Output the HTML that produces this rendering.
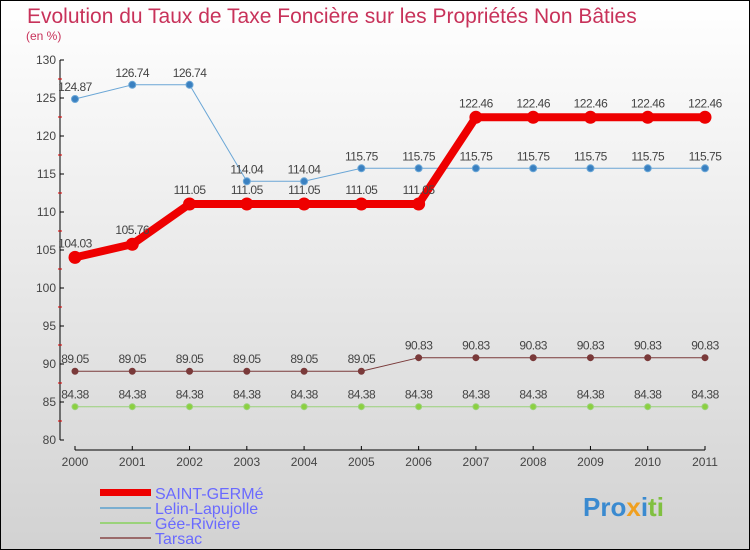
<!DOCTYPE html>
<html><head><meta charset="utf-8"><style>
body{margin:0}
svg{display:block;font-family:"Liberation Sans",sans-serif}
</style></head><body>
<svg id="chart" width="750" height="550">
<defs><linearGradient id="bg" x1="0" y1="0" x2="0" y2="1"><stop offset="0" stop-color="#ffffff"/><stop offset="1" stop-color="#d2d2d2"/></linearGradient></defs>
<rect x="0.5" y="0.5" width="749" height="549" fill="url(#bg)" stroke="#000"/>
<text x="27" y="23" font-size="21" fill="#c8325a">Evolution du Taux de Taxe Foncière sur les Propriétés Non Bâties</text>
<text x="26" y="40" font-size="12" fill="#c8325a">(en %)</text>
<g id="axes"></g><g id="series"></g>
<g>
<rect x="100" y="489" width="51" height="7" fill="#e00"/>
<text x="155" y="499" font-size="16" fill="#6a6aff">SAINT-GERMé</text>
<line x1="100" y1="508" x2="151" y2="508" stroke="#7aaed0" stroke-width="2"/>
<text x="155" y="514" font-size="16" fill="#6a6aff">Lelin-Lapujolle</text>
<line x1="100" y1="523" x2="151" y2="523" stroke="#9ad27a" stroke-width="2"/>
<text x="155" y="529" font-size="16" fill="#6a6aff">Gée-Rivière</text>
<line x1="100" y1="538" x2="151" y2="538" stroke="#9a6a6a" stroke-width="2"/>
<text x="155" y="544" font-size="16" fill="#6a6aff">Tarsac</text>
</g>
<g>
<text x="583" y="516" font-size="26" font-weight="bold" fill="#3a8ad0">Pro<tspan fill="#f0a020">x</tspan><tspan fill="#3a8ad0">i</tspan><tspan fill="#80c040">ti</tspan></text>
</g>
</svg>
<script>
const years=[2000,2001,2002,2003,2004,2005,2006,2007,2008,2009,2010,2011];
const saintGerme=[104.03,105.76,111.05,111.05,111.05,111.05,111.05,122.46,122.46,122.46,122.46,122.46];
const lelin=[124.87,126.74,126.74,114.04,114.04,115.75,115.75,115.75,115.75,115.75,115.75,115.75];
const gee=[84.38,84.38,84.38,84.38,84.38,84.38,84.38,84.38,84.38,84.38,84.38,84.38];
const tarsac=[89.05,89.05,89.05,89.05,89.05,89.05,90.83,90.83,90.83,90.83,90.83,90.83];
const yTicks=[80,85,90,95,100,105,110,115,120,125,130];
const NS="http://www.w3.org/2000/svg";
const xS=i=>75+i*(705-75)/(years.length-1);
const yS=v=>440-(v-80)*(380/50);
function mk(tag,attrs,parent,txt){const e=document.createElementNS(NS,tag);for(const k in attrs)e.setAttribute(k,attrs[k]);if(txt!==undefined)e.textContent=txt;parent.appendChild(e);return e;}
const ax=document.getElementById('axes');
let e=mk('line',{x1:60,y1:yS(130),x2:60,y2:yS(80),stroke:'#000'},ax);

e=mk('line',{x1:75,y1:450,x2:705,y2:450,stroke:'#000'},ax);

yTicks.forEach(t=>{
 mk('line',{x1:60,y1:yS(t),x2:64,y2:yS(t),stroke:'#000'},ax);
 if(t<130){mk('line',{x1:58,y1:yS(t+2.5),x2:62,y2:yS(t+2.5),stroke:'#d00'},ax);}
 const l=mk('text',{x:56,y:yS(t)+4,'font-size':12,'text-anchor':'end',fill:'#444'},ax,t);
 
});
years.forEach((y,i)=>{
 mk('line',{x1:xS(i),y1:446,x2:xS(i),y2:450,stroke:'#000'},ax);
 const l=mk('text',{x:xS(i),y:466,'font-size':12,'text-anchor':'middle',fill:'#444'},ax,y);
 
});
const sg=document.getElementById('series');
function series(vals,name,color,dot,w,r,labelDy){
 const g=mk('g',{},sg);
 
 const p=mk('polyline',{points:vals.map((v,i)=>xS(i)+','+yS(v)).join(' '),fill:'none',stroke:color,'stroke-width':w},g);
 
 vals.forEach((v,i)=>{
  const c=mk('circle',{cx:xS(i),cy:yS(v),r:r,fill:dot,stroke:color,'stroke-width':1},g);
  
  const t=mk('text',{x:xS(i),y:yS(v)+labelDy,'font-size':12,'text-anchor':'middle',fill:'#444','letter-spacing':'-0.5'},g,String(v));
  
 });
}
series(gee,'gee-riviere','#9ad27a','#8cd040',1,3,-8);
series(tarsac,'tarsac','#7a3a3a','#7a3a3a',1,3,-8);
series(lelin,'lelin-lapujolle','#6aa6d6','#3a80c0',1,3.5,-8);
series(saintGerme,'saint-germe','#ee0000','#ee0000',8,6,-10);
</script>
</body></html>
